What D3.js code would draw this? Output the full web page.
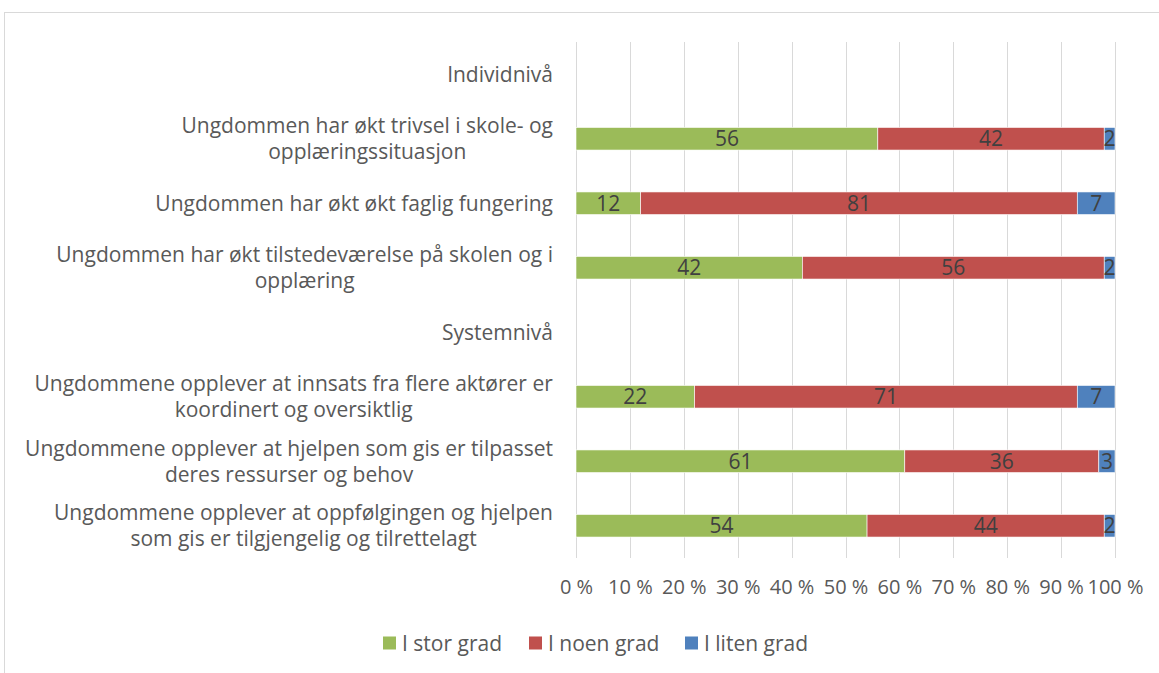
<!DOCTYPE html>
<html>
<head>
<meta charset="utf-8">
<script src="https://cdn.jsdelivr.net/npm/d3@7"></script>
<style>
  body { margin: 0; background: #fff; }
  svg { font-family: "Open Sans", sans-serif; }
</style>
</head>
<body>
<div id="chart"></div>
<script>
// data
var categories = [
  ["Individnivå"],
  ["Ungdommen har økt trivsel i skole- og", "opplæringssituasjon"],
  ["Ungdommen har økt økt faglig fungering"],
  ["Ungdommen har økt tilstedeværelse på skolen og i", "opplæring"],
  ["Systemnivå"],
  ["Ungdommene opplever at innsats fra flere aktører er", "koordinert og oversiktlig"],
  ["Ungdommene opplever at hjelpen som gis er tilpasset", "deres ressurser og behov"],
  ["Ungdommene opplever at oppfølgingen og hjelpen", "som gis er tilgjengelig og tilrettelagt"]
];
var seriesNames = ["I stor grad", "I noen grad", "I liten grad"];
var storGrad  = [null, 56, 12, 42, null, 22, 61, 54];
var noenGrad  = [null, 42, 81, 56, null, 71, 36, 44];
var litenGrad = [null, 2, 7, 2, null, 7, 3, 2];
var tickValues = [0, 10, 20, 30, 40, 50, 60, 70, 80, 90, 100];
var colors = ["#9bbb59", "#c0504d", "#4f81bd"];

var W = 1159, H = 673;
var plot = {left: 576, right: 1115, top: 42, bottom: 558};
var fs = "21px";

var svg = d3.select("#chart").append("svg")
  .attr("width", W)
  .attr("height", H);

// chart border
svg.append("rect")
  .attr("x", 4.5).attr("y", 12.5)
  .attr("width", W + 10).attr("height", H + 10)
  .attr("fill", "none")
  .attr("stroke", "#d9d9d9")
  .attr("stroke-width", 1);

var x = d3.scaleLinear().domain([0, 100]).range([plot.left, plot.right]);
var y = d3.scaleBand()
  .domain(d3.range(categories.length))
  .range([plot.top, plot.bottom])
  .paddingInner(0.65)
  .paddingOuter(0.325);

// gridlines
svg.append("g")
  .selectAll("line")
  .data(tickValues)
  .join("line")
    .attr("x1", function(d) { return Math.round(x(d)) + 0.5; })
    .attr("x2", function(d) { return Math.round(x(d)) + 0.5; })
    .attr("y1", plot.top)
    .attr("y2", plot.bottom)
    .attr("stroke", "#d9d9d9")
    .attr("stroke-width", 1);

// x axis labels
var xAxis = svg.append("g")
  .attr("transform", "translate(0," + plot.bottom + ")")
  .call(d3.axisBottom(x)
    .tickValues(tickValues)
    .tickSize(0)
    .tickPadding(22)
    .tickFormat(function(d) { return d + " %"; }));
xAxis.select(".domain").remove();
xAxis.selectAll("text")
  .attr("fill", "#595959")
  .style("font-size", "20px")
  .style("font-family", "'Open Sans', sans-serif");

// stacked bars
var rows = categories.map(function(c, i) {
  return {i: i, vals: [storGrad[i], noenGrad[i], litenGrad[i]]};
});
var segs = [];
rows.forEach(function(r) {
  if (r.vals[0] == null) return;
  var acc = 0;
  r.vals.forEach(function(v, k) {
    segs.push({i: r.i, k: k, x0: acc, x1: acc + v, v: v});
    acc += v;
  });
});

svg.append("g")
  .selectAll("rect")
  .data(segs)
  .join("rect")
    .attr("x", function(d) { return x(d.x0); })
    .attr("y", function(d) { return y(d.i); })
    .attr("width", function(d) { return x(d.x1) - x(d.x0); })
    .attr("height", y.bandwidth())
    .attr("fill", function(d) { return colors[d.k]; })
    .attr("stroke", "#ffffff")
    .attr("stroke-width", 0.6);

svg.append("g")
  .selectAll("text")
  .data(segs)
  .join("text")
    .attr("x", function(d) { return x((d.x0 + d.x1) / 2); })
    .attr("y", function(d) { return y(d.i) + y.bandwidth() / 2; })
    .attr("dy", "0.36em")
    .attr("text-anchor", "middle")
    .attr("fill", "#404040")
    .style("font-size", fs)
    .text(function(d) { return d.v; });

// category labels, right aligned block, centered lines
var lineH = 26;
var labelRight = 553;
var labels = svg.append("g")
  .selectAll("text")
  .data(rows)
  .join("text")
    .attr("text-anchor", "middle")
    .attr("fill", "#595959")
    .style("font-size", fs);

labels.each(function(d) {
  var t = d3.select(this);
  var lines = categories[d.i];
  var cy = y(d.i) + y.bandwidth() / 2;
  var y0 = cy - (lines.length - 1) * lineH / 2;
  lines.forEach(function(s, j) {
    t.append("tspan")
      .attr("x", 0)
      .attr("y", y0 + j * lineH)
      .attr("dy", "0.36em")
      .text(s);
  });
  var w = this.getBBox().width;
  t.selectAll("tspan").attr("x", labelRight - w / 2);
});

// legend
var legend = svg.append("g").attr("transform", "translate(0,643)");
var lx = [383, 529, 685];
var items = legend.selectAll("g")
  .data(seriesNames)
  .join("g")
    .attr("transform", function(d, i) { return "translate(" + lx[i] + ",0)"; });
items.append("rect")
  .attr("x", 0).attr("y", -6.5)
  .attr("width", 13).attr("height", 13)
  .attr("fill", function(d, i) { return colors[i]; });
items.append("text")
  .attr("x", 19)
  .attr("dy", "0.36em")
  .attr("fill", "#595959")
  .style("font-size", fs)
  .text(function(d) { return d; });
</script>
</body>
</html>
